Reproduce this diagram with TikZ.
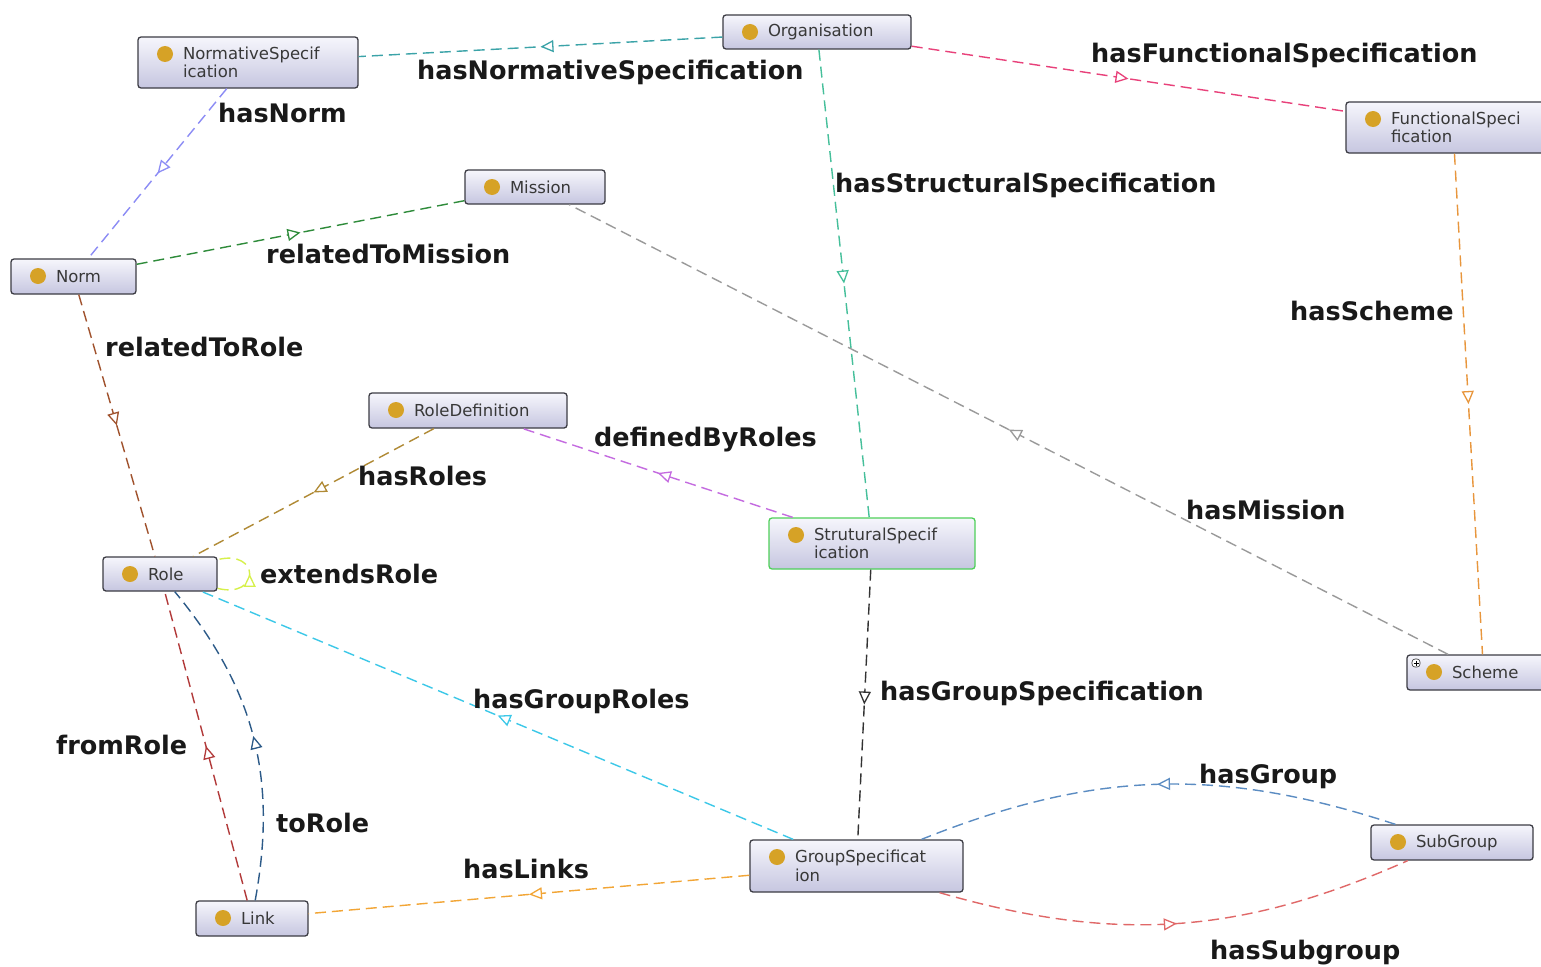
\documentclass[tikz,border=0pt]{standalone}
\usepackage{fontspec}
\setmainfont{DejaVu Sans}
\usetikzlibrary{arrows.meta,decorations.markings}
\definecolor{dotc}{HTML}{D6A226}
\definecolor{boxtop}{HTML}{F6F6FC}
\definecolor{boxbot}{HTML}{C6C6E0}
\definecolor{boxborder}{HTML}{3C3C44}
\definecolor{greenborder}{HTML}{4FD05A}
\definecolor{cnspec}{HTML}{3BA3A8}
\definecolor{cfspec}{HTML}{E8417A}
\definecolor{csspec}{HTML}{45BF9A}
\definecolor{cnorm}{HTML}{8C8CF5}
\definecolor{cmission}{HTML}{2E8B3A}
\definecolor{crelrole}{HTML}{A0522D}
\definecolor{cscheme}{HTML}{E8963C}
\definecolor{chasmission}{HTML}{9A9A9A}
\definecolor{cdefined}{HTML}{C46BE0}
\definecolor{chasroles}{HTML}{B08A35}
\definecolor{cext}{HTML}{D6F04A}
\definecolor{cgrouproles}{HTML}{3CC8E8}
\definecolor{cgroupspec}{HTML}{333333}
\definecolor{clinks}{HTML}{F2A535}
\definecolor{cfrom}{HTML}{B23A3A}
\definecolor{cto}{HTML}{2C5A88}
\definecolor{cgroup}{HTML}{5B8CC2}
\definecolor{csubgroup}{HTML}{E06868}
\tikzset{
  cls/.style={draw=boxborder, line width=1.3pt, rounded corners=3pt,
    top color=boxtop, bottom color=boxbot, align=left,
    inner xsep=45pt, inner ysep=0pt,
    font=\fontsize{16.5}{18.5}\selectfont, text=black!78,
    path picture={\fill[dotc] ([shift={(27pt,-17pt)}]path picture bounding box.north west) circle (8pt);}},
  rel/.style={draw=#1, line width=1.4pt, dash pattern=on 11pt off 6pt,
    postaction={decorate},
    decoration={markings, mark=at position 0.5 with {\arrow[#1, line width=1.3pt]{Triangle[length=13pt, width=12pt, fill=white]}}}},
  lbl/.style={anchor=base west, inner sep=0pt, font=\fontsize{25.5}{28}\selectfont\bfseries, text=black!90}
}
\begin{document}
\begin{tikzpicture}[x=1pt,y=1pt]
\fill[white] (0,0) rectangle (1541,-966);
\useasboundingbox (0,0) rectangle (1541,-966);

% classes
\node[cls, minimum width=220pt, minimum height=51pt, text width=130pt] (nspec) at (248,-62.5) {NormativeSpecif\\ication};
\node[cls, minimum width=188pt, minimum height=34pt, text width=98pt] (org) at (817,-32) {Organisation};
\node[cls, minimum width=214pt, minimum height=51pt, text width=124pt] (fspec) at (1453,-127.5) {FunctionalSpeci\\fication};
\node[cls, minimum width=140pt, minimum height=34pt, text width=50pt] (mission) at (535,-187) {Mission};
\node[cls, minimum width=125pt, minimum height=35pt, text width=35pt] (norm) at (73.5,-276.5) {Norm};
\node[cls, minimum width=198pt, minimum height=35pt, text width=108pt] (roledef) at (468,-410.5) {RoleDefinition};
\node[cls, draw=greenborder, minimum width=206pt, minimum height=51pt, text width=116pt] (sspec) at (872,-543.5) {StruturalSpecif\\ication};
\node[cls, minimum width=114pt, minimum height=34pt, text width=24pt] (role) at (160,-574) {Role};
\node[cls, minimum width=153pt, minimum height=35pt, text width=63pt,
  path picture={\fill[dotc] ([shift={(27pt,-17pt)}]path picture bounding box.north west) circle (8pt);
    \draw[black!80, line width=0.6pt, fill=white] ([shift={(5pt,-4pt)}]path picture bounding box.north west) rectangle ++(8pt,-8pt);
    \draw[black, line width=0.7pt] ([shift={(6.5pt,-8pt)}]path picture bounding box.north west) -- ++(5pt,0);
    \draw[black, line width=0.7pt] ([shift={(9pt,-5.5pt)}]path picture bounding box.north west) -- ++(0,-5pt);}] (scheme) at (1483.5,-672.5) {Scheme};
\node[cls, minimum width=213pt, minimum height=52pt, text width=123pt] (gspec) at (856.5,-866) {GroupSpecificat\\ion};
\node[cls, minimum width=162pt, minimum height=35pt, text width=72pt] (subgroup) at (1452,-842.5) {SubGroup};
\node[cls, minimum width=112pt, minimum height=35pt, text width=22pt] (link) at (252,-918.5) {Link};

% relations
\draw[rel=cnspec] (org) -- (nspec);
\draw[rel=cfspec] (org) -- (fspec);
\draw[rel=csspec] (org) -- (sspec);
\draw[rel=cnorm] (nspec) -- (norm);
\draw[rel=cmission] (norm) -- (mission);
\draw[rel=crelrole] (norm) -- (role);
\draw[rel=cscheme] (fspec) -- (scheme);
\draw[rel=chasmission] (scheme) -- (mission);
\draw[rel=cdefined] (sspec) -- (roledef);
\draw[rel=chasroles] (roledef) -- (role);
\draw[rel=cext] (role) to[out=-14, in=14, min distance=44pt] (role);
\draw[rel=cgrouproles] (gspec) -- (role);
\draw[rel=cgroupspec] (sspec) -- (gspec);
\draw[rel=clinks] (gspec) -- (link);
\draw[rel=cfrom] (link) -- (role);
\draw[rel=cto] (link) to[bend right=25] (role);
\draw[rel=cgroup] (subgroup) to[bend right=20] (gspec);
\draw[rel=csubgroup] (gspec) to[bend right=20] (subgroup);

% labels
\node[lbl] (l1) at (417,-79) {hasNormativeSpecification};
\node[lbl] (l2) at (218,-122) {hasNorm};
\node[lbl] (l3) at (1091,-63) {hasFunctionalSpecification};
\node[lbl] (l4) at (835,-192) {hasStructuralSpecification};
\node[lbl] (l5) at (266,-263) {relatedToMission};
\node[lbl] (l6) at (105,-356) {relatedToRole};
\node[lbl] (l7) at (1290,-320) {hasScheme};
\node[lbl] (l8) at (594,-446) {definedByRoles};
\node[lbl] (l9) at (358,-485) {hasRoles};
\node[lbl] (l10) at (1186,-519) {hasMission};
\node[lbl] (l11) at (260,-583) {extendsRole};
\node[lbl] (l12) at (880,-700) {hasGroupSpecification};
\node[lbl] (l13) at (473,-708) {hasGroupRoles};
\node[lbl] (l14) at (56,-754) {fromRole};
\node[lbl] (l15) at (1199,-783) {hasGroup};
\node[lbl] (l16) at (276,-832) {toRole};
\node[lbl] (l17) at (463,-878) {hasLinks};
\node[lbl] (l18) at (1210,-959) {hasSubgroup};
\end{tikzpicture}
\end{document}
